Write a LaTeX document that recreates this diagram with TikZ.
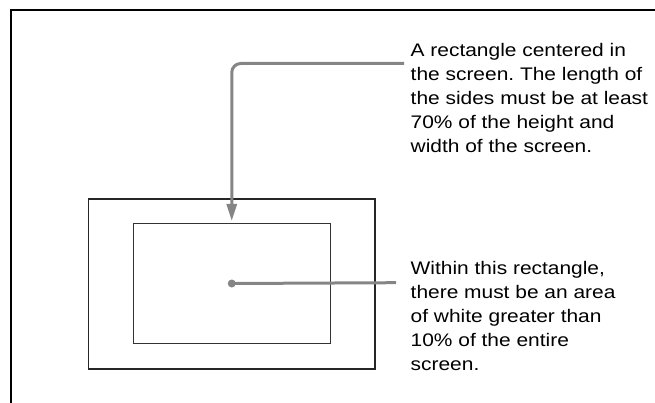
\documentclass[tikz,border=0pt]{standalone}
\usepackage{fontspec}
\setmainfont[FakeStretch=1.15]{Liberation Sans}
\usetikzlibrary{positioning,arrows.meta}
\definecolor{leadgray}{HTML}{858585}
\frenchspacing
\tikzset{
  screen/.style={draw=black!85, line width=1.5pt, minimum width=286.5pt, minimum height=170pt, inner sep=0pt, outer sep=0pt},
  area/.style={draw=black!80, line width=1pt, minimum width=196.5pt, minimum height=119pt, inner sep=0pt, outer sep=0pt},
  leader/.style={draw=leadgray, line width=3pt},
  note/.style={align=left, anchor=north west, inner sep=0pt, font=\fontsize{18.2}{24}\selectfont}
}
\begin{document}
\begin{tikzpicture}[x=1pt,y=-1pt]
  \useasboundingbox (0,0) rectangle (655,403);
  % page frame, cut by the edges
  \draw[line width=2pt] (11,410) -- (11,10) -- (660,10);
  \node[screen] (screen) at (231.75,284) {};
  \node[area] (area) at (231.75,283.5) {};
  \node[note] (topnote) at (410.5,42.7) {A rectangle centered in\\the screen. The length of\\the sides must be at least\\70\% of the height and\\width of the screen.};
  \node[note] (botnote) at (410.5,260.7) {Within this rectangle,\\there must be an area\\of white greater than\\10\% of the entire\\screen.};
  \coordinate (topend) at (404,63.5);
  \coordinate (botend) at (396,282.7);
  \coordinate (dot) at (area.center);
  % leaders
  \draw[leader, rounded corners=9pt, -{Triangle[length=17pt,width=10pt]}] (topend) -| ([yshift=3pt]area.north);
  \draw[leader] (dot) -- (botend);
  \fill[leadgray] (dot) circle (4pt);
\end{tikzpicture}
\end{document}
